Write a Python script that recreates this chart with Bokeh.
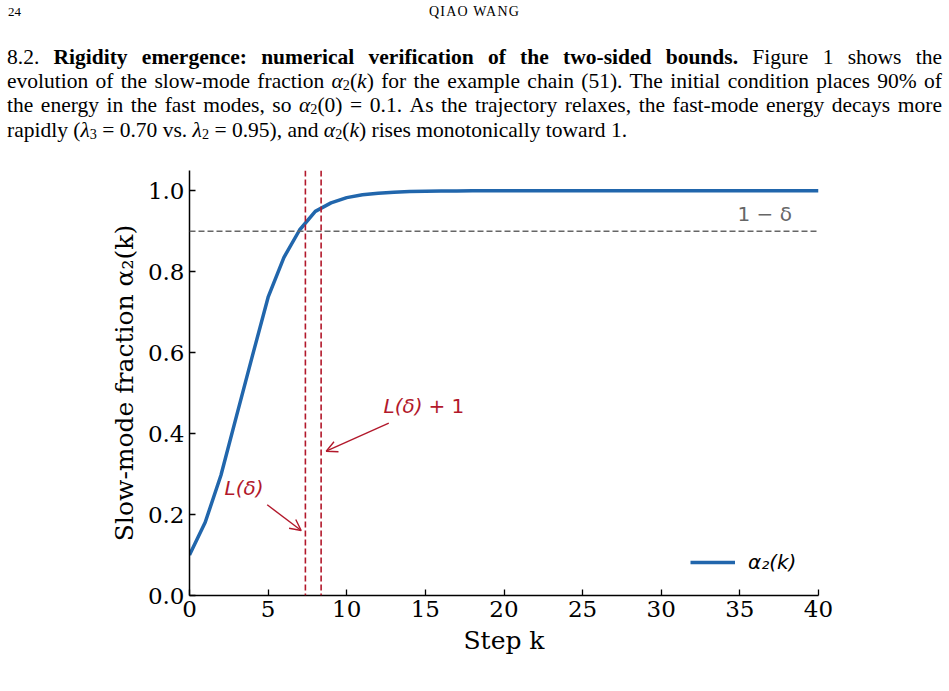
from bokeh.plotting import figure
from bokeh.layouts import column
from bokeh.models import (Range1d, FixedTicker, Span, Label, Arrow, OpenHead,
                          Legend, LegendItem, NumeralTickFormatter, Div)
from bokeh.embed import file_html
from bokeh.resources import INLINE

# ---------------- data ----------------
steps = list(range(41))
alpha2 = [0.100, 0.181, 0.297, 0.445, 0.592, 0.737, 0.835, 0.903, 0.949, 0.970,
          0.983, 0.990, 0.994, 0.996, 0.998, 0.999, 0.9993, 0.9996, 0.9998, 0.9999,
          1.0, 1.0, 1.0, 1.0, 1.0, 1.0, 1.0, 1.0, 1.0, 1.0,
          1.0, 1.0, 1.0, 1.0, 1.0, 1.0, 1.0, 1.0, 1.0, 1.0, 1.0]
x_ticks = [0, 5, 10, 15, 20, 25, 30, 35, 40]
y_ticks = [0.0, 0.2, 0.4, 0.6, 0.8, 1.0]
threshold = 0.9          # 1 - delta
L_delta = 7.37
L_delta_plus_1 = 8.37

header_left = "24"
header_center = "QIAO WANG"
A2K = "<i>α</i><sub>2</sub>(<i>k</i>)"
para_lines = [
    "8.2. <b>Rigidity emergence: numerical verification of the two-sided bounds.</b> Figure 1 shows the",
    "evolution of the slow-mode fraction " + A2K + " for the example chain (51). The initial condition places 90% of",
    "the energy in the fast modes, so <i>α</i><sub>2</sub>(0) = 0.1. As the trajectory relaxes, the fast-mode energy decays more",
    "rapidly (<i>λ</i><sub>3</sub> = 0.70 vs. <i>λ</i><sub>2</sub> = 0.95), and " + A2K + " rises monotonically toward 1.",
]

# ---------------- layout ----------------
W, H = 949, 691
TOP_H = 170                               # height of the page-text strip
FL, FR, FB = 189, 818, 595                # frame edges in page pixels
X0, X1, Y0, Y1 = 0, 40, 0, 1.05

def px2x(px):
    return X0 + (px - FL) * (X1 - X0) / (FR - FL)

def py2y(py):
    return Y0 + (FB - py) * (Y1 - Y0) / (FB - TOP_H)

BLUE = "#2166ac"
RED = "#b2182b"
GRAY = "#666666"

# ---- page text strip ----
line_tops = [44.8, 69.0, 93.2, 117.8]
html = ["<style>sub{font-size:0.66em;vertical-align:-0.12em;line-height:0}"
        ".ln{position:absolute;left:7px;width:935px;height:24px;line-height:24px;"
        "font-size:21.5px;white-space:nowrap;}"
        ".j{text-align:justify;text-align-last:justify;}</style>",
        "<div style=\"position:relative;width:949px;height:170px;"
        "font-family:'Liberation Serif',serif;color:#000;\">",
        "<div style='position:absolute;left:8px;top:4px;font-size:13px;line-height:16px;'>"
        + header_left + "</div>",
        "<div style='position:absolute;left:0;width:949px;top:4px;text-align:center;"
        "font-size:14px;line-height:16px;letter-spacing:1.2px;'>" + header_center + "</div>"]
for i, line in enumerate(para_lines):
    cls = "ln j" if i < 3 else "ln"
    html.append("<div class='%s' style='top:%.1fpx;'>%s</div>" % (cls, line_tops[i], line))
html.append("</div>")
div = Div(text="".join(html), width=W, height=TOP_H, margin=(0, 0, 0, 0))

# ---- chart ----
p = figure(width=W, height=H - TOP_H, x_range=Range1d(X0, X1), y_range=Range1d(Y0, Y1),
           output_backend="svg", toolbar_location=None,
           min_border_left=FL, min_border_right=W - FR,
           min_border_top=0, min_border_bottom=H - FB)
p.outline_line_color = None
p.grid.visible = False
p.background_fill_color = "white"
p.border_fill_color = "white"

for ax in (p.xaxis[0], p.yaxis[0]):
    ax.axis_line_width = 1.5
    ax.axis_line_color = "black"
    ax.major_tick_in = 6
    ax.major_tick_out = 0
    ax.major_tick_line_width = 1.3
    ax.major_tick_line_color = "black"
    ax.minor_tick_in = 0
    ax.minor_tick_out = 0
    ax.major_label_text_font = "DejaVu Serif"
    ax.major_label_text_font_size = "23px"
    ax.major_label_text_color = "black"
    ax.axis_label_text_font = "DejaVu Serif"
    ax.axis_label_text_font_size = "25px"
    ax.axis_label_text_font_style = "normal"
    ax.axis_label_text_color = "black"

p.xaxis.ticker = FixedTicker(ticks=x_ticks)
p.yaxis.ticker = FixedTicker(ticks=y_ticks)
p.yaxis.formatter = NumeralTickFormatter(format="0.0")
p.xaxis.major_label_standoff = 5
p.yaxis.major_label_standoff = 5
p.xaxis.axis_label = "Step k"
p.yaxis.axis_label = "Slow-mode fraction α₂(k)"
p.xaxis.axis_label_standoff = 6
p.yaxis.axis_label_standoff = 6

# reference lines
p.add_layout(Span(location=threshold, dimension="width", line_color=GRAY,
                  line_dash="6 3", line_width=1.5))
p.add_layout(Span(location=L_delta, dimension="height", line_color=RED,
                  line_dash="6 3", line_width=1.6))
p.add_layout(Span(location=L_delta_plus_1, dimension="height", line_color=RED,
                  line_dash="6 3", line_width=1.6))

r = p.line(steps, alpha2, line_color=BLUE, line_width=3.5)

legend = Legend(items=[LegendItem(label="α₂(k)", renderers=[r])],
                location=(690 - FL, 21), glyph_width=45, glyph_height=20,
                label_standoff=13, padding=0, margin=0, border_line_color=None,
                background_fill_alpha=0, label_text_font="DejaVu Sans",
                label_text_font_style="italic", label_text_font_size="20px",
                label_text_color="black")
p.add_layout(legend)

# annotations
ann_font = dict(text_font="DejaVu Sans", text_font_size="20px", text_baseline="middle")
p.add_layout(Label(x=px2x(383), y=py2y(405), text="L(δ)", text_color=RED,
                   text_font_style="italic", **ann_font))
p.add_layout(Label(x=px2x(428), y=py2y(405), text="+ 1", text_color=RED, **ann_font))
p.add_layout(Label(x=px2x(224), y=py2y(487), text="L(δ)", text_color=RED,
                   text_font_style="italic", **ann_font))
p.add_layout(Label(x=px2x(737), y=py2y(213), text="1 − δ", text_color=GRAY, **ann_font))

p.add_layout(Arrow(x_start=px2x(388.3), y_start=py2y(422.7),
                   x_end=px2x(325.7), y_end=py2y(450.7),
                   line_color=RED, line_width=1.4,
                   end=OpenHead(size=11, line_color=RED, line_width=1.4)))
p.add_layout(Arrow(x_start=px2x(266.7), y_start=py2y(504.3),
                   x_end=px2x(300.7), y_end=py2y(530),
                   line_color=RED, line_width=1.4,
                   end=OpenHead(size=11, line_color=RED, line_width=1.4)))

layout = column(div, p, spacing=0)
open("out.html", "w").write(file_html(layout, INLINE))
